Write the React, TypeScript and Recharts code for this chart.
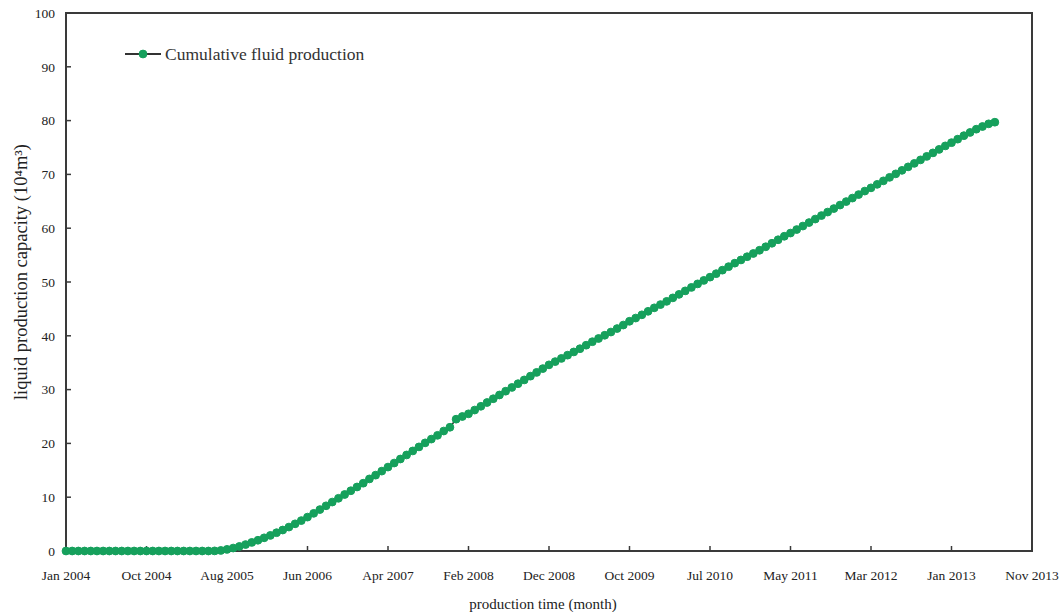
import React from 'react';
import { LineChart, Line, XAxis, YAxis, ReferenceArea } from 'recharts';

const tickLabels = [
  'Jan 2004', 'Oct 2004', 'Aug 2005', 'Jun 2006', 'Apr 2007', 'Feb 2008', 'Dec 2008',
  'Oct 2009', 'Jul 2010', 'May 2011', 'Mar 2012', 'Jan 2013', 'Nov 2013',
];

const yTicks = [0, 10, 20, 30, 40, 50, 60, 70, 80, 90, 100];

// Cumulative fluid production (10^4 m^3), one value per sample point
const cumulativeFluid = [
  0, 0, 0, 0, 0, 0, 0, 0, 0, 0,
  0, 0, 0, 0, 0, 0, 0, 0, 0, 0,
  0, 0, 0, 0, 0.02, 0.1, 0.3, 0.55, 0.85, 1.2,
  1.6, 2.0, 2.45, 2.9, 3.4, 3.9, 4.45, 5.05, 5.65, 6.3,
  7.0, 7.7, 8.4, 9.1, 9.8, 10.5, 11.2, 11.9, 12.6, 13.4,
  14.1, 14.85, 15.6, 16.35, 17.1, 17.85, 18.6, 19.35, 20.1, 20.8,
  21.5, 22.3, 23.0, 24.5, 25.0, 25.5, 26.2, 26.9, 27.6, 28.3,
  29.0, 29.7, 30.4, 31.1, 31.8, 32.5, 33.2, 33.9, 34.6, 35.2,
  35.8, 36.4, 37.0, 37.6, 38.25, 38.9, 39.5, 40.1, 40.7, 41.35,
  42.0, 42.7, 43.3, 43.9, 44.55, 45.2, 45.8, 46.4, 47.05, 47.7,
  48.35, 49.0, 49.65, 50.3, 50.9, 51.55, 52.2, 52.85, 53.5, 54.1,
  54.7, 55.3, 55.9, 56.55, 57.2, 57.85, 58.5, 59.1, 59.75, 60.4,
  61.05, 61.7, 62.35, 63.0, 63.65, 64.3, 64.95, 65.6, 66.25, 66.9,
  67.5, 68.15, 68.8, 69.45, 70.1, 70.75, 71.4, 72.05, 72.7, 73.35,
  74.0, 74.65, 75.3, 75.9, 76.55, 77.2, 77.8, 78.4, 78.9, 79.4,
  79.7,
];

// Category positions per label interval on the time axis
const POINTS_PER_LABEL = 13;
const AXIS_SPAN = POINTS_PER_LABEL * (tickLabels.length - 1);

const data = cumulativeFluid.map((v, i) => ({ t: i, value: v }));
const xTicks = tickLabels.map((_, i) => i * POINTS_PER_LABEL);

const GREEN = '#16a05c';
const AXIS = '#3a3a3a';
const FONT = '"Liberation Serif", "Times New Roman", serif';

export default function App() {
  return (
    <div
      style={{
        position: 'fixed',
        left: 0,
        top: 0,
        width: 1062,
        height: 612,
        fontFamily: FONT,
        overflow: 'hidden',
        background: '#fff',
      }}
    >
      <LineChart
        width={1062}
        height={612}
        data={data}
        margin={{ top: 13, right: 30, bottom: 3, left: 6 }}
      >
        <XAxis
          dataKey="t"
          type="number"
          domain={[0, AXIS_SPAN]}
          ticks={xTicks}
          interval={0}
          tickFormatter={(_, i) => tickLabels[i]}
          height={58}
          tickSize={-5}
          tickMargin={24}
          axisLine={{ stroke: AXIS, strokeWidth: 2 }}
          tickLine={{ stroke: AXIS, strokeWidth: 1.5 }}
          tick={{ fill: '#222', fontSize: 13.5, fontFamily: FONT }}
          label={{
            value: 'production time (month)',
            position: 'insideBottom',
            offset: 0,
            dx: -6,
            fill: '#222',
            fontSize: 15,
            fontFamily: FONT,
          }}
        />
        <YAxis
          domain={[0, 100]}
          ticks={yTicks}
          interval={0}
          width={60}
          tickSize={-5}
          tickMargin={16}
          axisLine={{ stroke: AXIS, strokeWidth: 2 }}
          tickLine={{ stroke: AXIS, strokeWidth: 1.5 }}
          tick={{ fill: '#222', fontSize: 13.5, fontFamily: FONT }}
          label={{
            value: 'liquid production capacity (10⁴m³)',
            angle: -90,
            position: 'center',
            dx: -16,
            dy: -10,
            fill: '#222',
            fontSize: 18.5,
            fontFamily: FONT,
          }}
        />
        <ReferenceArea
          x1={0}
          x2={AXIS_SPAN}
          y1={0}
          y2={100}
          fill="none"
          stroke={AXIS}
          strokeWidth={2}
          ifOverflow="visible"
        />
        <Line
          type="linear"
          dataKey="value"
          name="Cumulative fluid production"
          stroke="#2b2b2b"
          strokeWidth={1.5}
          dot={{ r: 3.9, fill: GREEN, stroke: GREEN, strokeWidth: 1 }}
          isAnimationActive={false}
        />
      </LineChart>
      <div
        style={{
          position: 'absolute',
          left: 123,
          top: 44,
          display: 'flex',
          alignItems: 'center',
          pointerEvents: 'none',
        }}
      >
        <svg width={42} height={20} style={{ display: 'block' }}>
          <line x1={2} y1={10} x2={38} y2={10} stroke="#333" strokeWidth={2} />
          <circle cx={20} cy={10} r={3.9} fill={GREEN} stroke={GREEN} />
        </svg>
        <span style={{ fontFamily: FONT, fontSize: 17.5, color: '#333', lineHeight: '20px' }}>
          Cumulative fluid production
        </span>
      </div>
    </div>
  );
}
